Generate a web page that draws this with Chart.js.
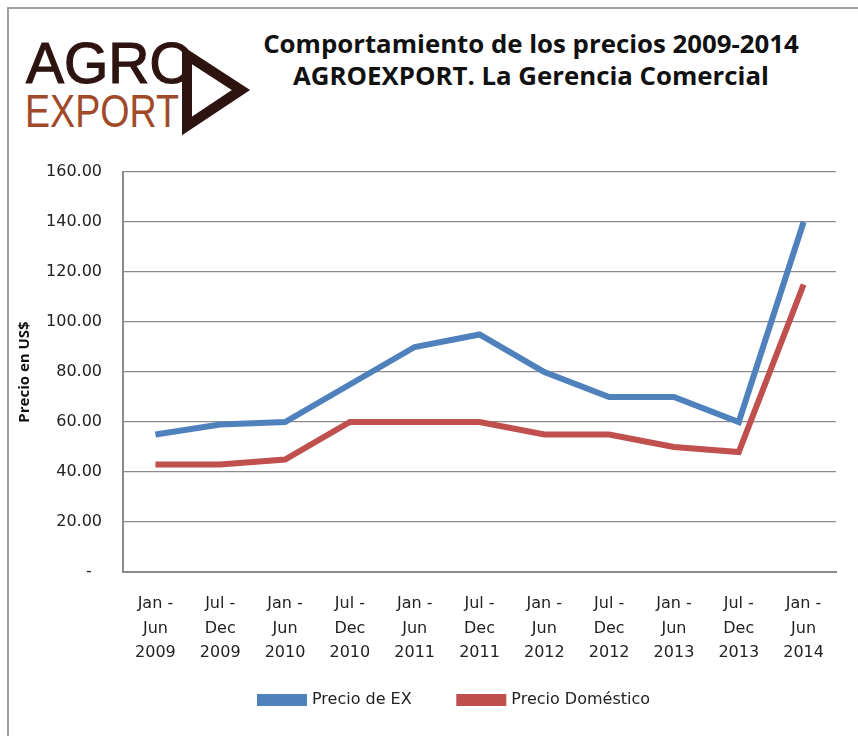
<!DOCTYPE html>
<html>
<head>
<meta charset="utf-8">
<script src="https://cdn.jsdelivr.net/npm/chart.js@4.4.0/dist/chart.umd.min.js"></script>
<style>
  html, body { margin: 0; padding: 0; background: #fff; }
  #wrap { position: relative; width: 858px; height: 736px; overflow: hidden; }
  #frame { position: absolute; left: 7px; top: 7px; width: 900px; height: 800px;
           border-left: 2px solid #a0a0a0; border-top: 2px solid #a0a0a0; }
  #chartBox { position: absolute; left: 0; top: 0; width: 858px; height: 736px; }
  .logo { position: absolute; font-family: 'Liberation Sans', Arial, sans-serif; line-height: 1; white-space: nowrap; }
  #agro { left: 26px; top: 35px; font-size: 57px; color: #2e1410; -webkit-text-stroke: 1.2px #2e1410; }
  #export { left: 25px; top: 87px; font-size: 47px; color: #a04a2a; transform: scaleX(0.8); transform-origin: left; }
  #arrow { position: absolute; left: 0; top: 0; }
  #title { position: absolute; left: 181px; width: 700px; top: 27px; text-align: center;
           font-family: 'Open Sans', 'Liberation Sans', sans-serif; font-weight: bold;
           font-size: 25.8px; line-height: 32px; color: #111; }
</style>
</head>
<body>
<div id="wrap">
  <div id="frame"></div>
  <div class="logo" id="agro">AGRO</div>
  <div class="logo" id="export">EXPORT</div>
  <svg id="arrow" width="260" height="140">
    <polygon points="187,55 241,90 187,126" fill="none" stroke="#2e1410" stroke-width="10" stroke-linejoin="miter"/>
  </svg>
  <div id="title">Comportamiento de los precios 2009-2014<br>AGROEXPORT. La Gerencia Comercial</div>
  <div id="chartBox"><canvas id="priceChart"></canvas></div>
</div>
<script>
const periods = [
    ['Jan -', 'Jun', '2009'], ['Jul -', 'Dec', '2009'],
    ['Jan -', 'Jun', '2010'], ['Jul -', 'Dec', '2010'],
    ['Jan -', 'Jun', '2011'], ['Jul -', 'Dec', '2011'],
    ['Jan -', 'Jun', '2012'], ['Jul -', 'Dec', '2012'],
    ['Jan -', 'Jun', '2013'], ['Jul -', 'Dec', '2013'],
    ['Jan -', 'Jun', '2014']
];
const precioEX = [55, 59, 60, 75, 90, 95, 80, 70, 70, 60, 140];
const precioDomestico = [43, 43, 45, 60, 60, 60, 55, 55, 50, 48, 115];
const yTicks = [0, 20, 40, 60, 80, 100, 120, 140, 160];

const tickFont = "'DejaVu Sans', Verdana, sans-serif";

// nudge the legend to the right, like in the original
const legendShift = {
    id: 'legendShift',
    afterLayout(chart) {
        chart.legend.left += 29;
        chart.legend.right += 29;
    }
};

const ctx = document.getElementById('priceChart').getContext('2d');
const priceChart = new Chart(ctx, {
    type: 'line',
    data: {
        labels: periods,
        datasets: [{
            label: 'Precio de EX',
            data: precioEX,
            borderColor: '#4f81bd',
            backgroundColor: '#4f81bd',
            borderWidth: 6,
            pointRadius: 0,
            tension: 0
        }, {
            label: 'Precio Doméstico',
            data: precioDomestico,
            borderColor: '#c0504d',
            backgroundColor: '#c0504d',
            borderWidth: 6,
            pointRadius: 0,
            tension: 0
        }]
    },
    options: {
        responsive: true,
        maintainAspectRatio: false,
        animation: false,
        layout: { padding: { left: 16, right: 22, top: 172, bottom: 18 } },
        scales: {
            x: {
                offset: true,
                grid: { display: false },
                border: { color: '#8c8c8c', width: 2 },
                ticks: {
                    color: '#222',
                    padding: 12,
                    maxRotation: 0,
                    autoSkip: false,
                    font: { family: tickFont, size: 16, lineHeight: 1.53 }
                },
                afterFit: s => { s.height = 108; }
            },
            y: {
                min: 0,
                max: 160,
                afterBuildTicks: s => { s.ticks = yTicks.map(v => ({ value: v })); },
                grid: { color: '#8c8c8c', lineWidth: 1.2, drawTicks: false },
                border: { color: '#8c8c8c', width: 2 },
                ticks: {
                    color: '#222',
                    padding: 21,
                    font: { family: tickFont, size: 16 },
                    // accounting style: zero shows as a dash
                    callback: v => v === 0 ? '-  ' : v.toFixed(2)
                },
                title: {
                    display: true,
                    text: 'Precio en US$',
                    color: '#111',
                    font: { family: "'Open Sans', 'Liberation Sans', sans-serif", size: 15, weight: 'bold' },
                    padding: { top: 0, bottom: 0 }
                },
                afterFit: s => { s.width = 107; }
            }
        },
        plugins: {
            legend: {
                position: 'bottom',
                labels: {
                    color: '#222',
                    boxWidth: 44,
                    boxHeight: 6,
                    padding: 12,
                    font: { family: tickFont, size: 16 },
                    generateLabels: chart => Chart.defaults.plugins.legend.labels.generateLabels(chart)
                        .map((item, i) => { if (i === 0) item.text += '       '; return item; })
                }
            },
            tooltip: { enabled: false }
        }
    },
    plugins: [legendShift]
});
</script>
</body>
</html>
